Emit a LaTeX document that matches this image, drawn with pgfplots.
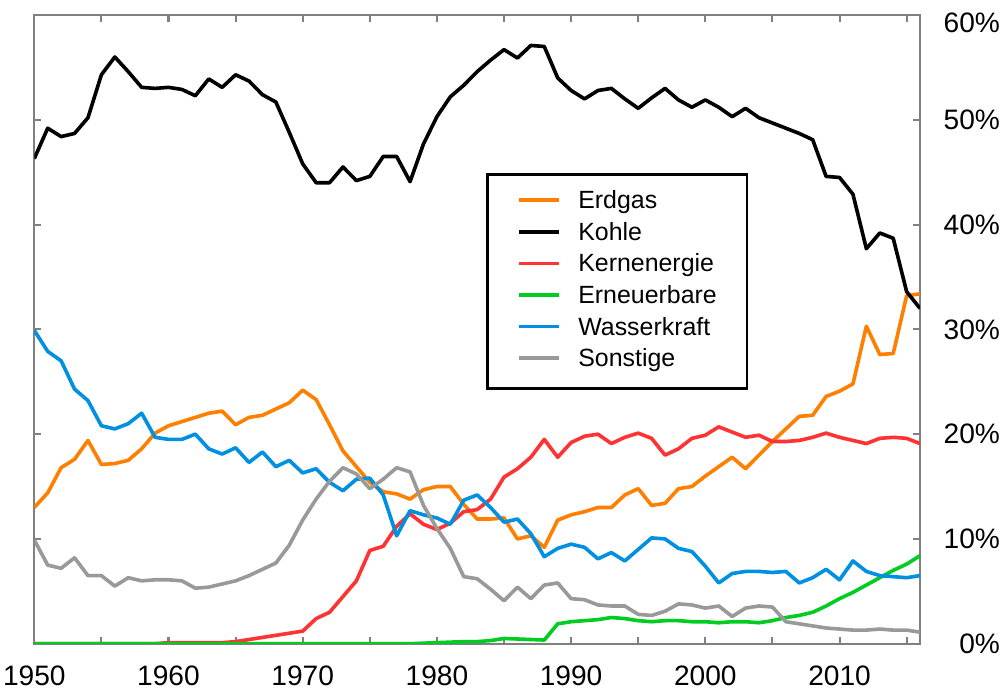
\documentclass[border=0pt]{standalone}
\usepackage{fontspec}
\setmainfont{Liberation Sans}
\usepackage{pgfplots}
\usepackage{pgfplotstable}
\pgfplotsset{compat=1.18}
\definecolor{cgas}{RGB}{255,128,0}
\definecolor{cnuc}{RGB}{255,51,51}
\definecolor{cren}{RGB}{0,204,34}
\definecolor{chyd}{RGB}{0,144,226}
\definecolor{coth}{RGB}{153,153,153}
\definecolor{caxis}{RGB}{128,128,128}

\pgfplotstableread{
year kohle erdgas kern ern wasser sonst
1950 46.3 13.0 0.0 0.0 29.9 9.9
1951 49.2 14.4 0.0 0.0 27.9 7.5
1952 48.4 16.8 0.0 0.0 27.0 7.2
1953 48.7 17.6 0.0 0.0 24.3 8.2
1954 50.2 19.4 0.0 0.0 23.2 6.5
1955 54.3 17.1 0.0 0.0 20.8 6.5
1956 56.0 17.2 0.0 0.0 20.5 5.5
1957 54.6 17.5 0.0 0.0 21.0 6.3
1958 53.1 18.6 0.0 0.0 22.0 6.0
1959 53.0 20.1 0.0 0.0 19.7 6.1
1960 53.1 20.8 0.1 0.0 19.5 6.1
1961 52.9 21.2 0.1 0.0 19.5 6.0
1962 52.3 21.6 0.1 0.0 20.0 5.3
1963 53.9 22.0 0.1 0.0 18.6 5.4
1964 53.1 22.2 0.1 0.0 18.1 5.7
1965 54.3 20.9 0.2 0.0 18.7 6.0
1966 53.7 21.6 0.4 0.0 17.3 6.5
1967 52.4 21.8 0.6 0.0 18.3 7.1
1968 51.7 22.4 0.8 0.0 16.9 7.7
1969 48.8 23.0 1.0 0.0 17.5 9.4
1970 45.8 24.2 1.2 0.0 16.3 11.8
1971 44.0 23.3 2.4 0.0 16.7 13.8
1972 44.0 20.9 3.0 0.0 15.4 15.5
1973 45.5 18.4 4.5 0.0 14.6 16.8
1974 44.2 16.9 6.0 0.0 15.7 16.2
1975 44.6 15.4 8.9 0.0 15.8 14.8
1976 46.5 14.5 9.3 0.0 14.2 15.7
1977 46.5 14.3 11.2 0.0 10.3 16.8
1978 44.1 13.8 12.4 0.0 12.7 16.4
1979 47.7 14.7 11.4 0.05 12.3 13.2
1980 50.3 15.0 10.9 0.1 12.0 11.0
1981 52.2 15.0 11.5 0.15 11.4 9.1
1982 53.3 13.3 12.6 0.2 13.7 6.4
1983 54.6 11.9 12.8 0.2 14.2 6.2
1984 55.7 11.9 13.8 0.3 13.0 5.2
1985 56.7 12.0 15.9 0.5 11.6 4.1
1986 55.9 10.0 16.7 0.45 11.9 5.4
1987 57.1 10.3 17.8 0.4 10.5 4.3
1988 57.0 9.2 19.5 0.35 8.3 5.6
1989 54.0 11.8 17.8 1.9 9.1 5.8
1990 52.8 12.3 19.2 2.1 9.5 4.3
1991 52.0 12.6 19.8 2.2 9.2 4.2
1992 52.8 13.0 20.0 2.3 8.1 3.7
1993 53.0 13.0 19.1 2.5 8.7 3.6
1994 52.0 14.2 19.7 2.4 7.9 3.6
1995 51.1 14.8 20.1 2.2 9.0 2.8
1996 52.1 13.2 19.6 2.1 10.1 2.7
1997 53.0 13.4 18.0 2.2 10.0 3.1
1998 51.9 14.8 18.6 2.2 9.1 3.8
1999 51.2 15.0 19.6 2.1 8.8 3.7
2000 51.9 16.0 19.9 2.1 7.4 3.4
2001 51.2 16.9 20.7 2.0 5.8 3.6
2002 50.3 17.8 20.2 2.1 6.7 2.6
2003 51.1 16.7 19.7 2.1 6.9 3.4
2004 50.2 18.0 19.9 2.0 6.9 3.6
2005 49.7 19.3 19.3 2.2 6.8 3.5
2006 49.2 20.5 19.3 2.5 6.9 2.1
2007 48.7 21.7 19.4 2.7 5.8 1.9
2008 48.1 21.8 19.7 3.0 6.3 1.7
2009 44.6 23.6 20.1 3.6 7.1 1.5
2010 44.5 24.1 19.7 4.3 6.1 1.4
2011 42.9 24.8 19.4 4.9 7.9 1.3
2012 37.7 30.3 19.1 5.6 6.9 1.3
2013 39.2 27.6 19.6 6.3 6.5 1.4
2014 38.7 27.7 19.7 7.0 6.4 1.3
2015 33.6 33.2 19.6 7.6 6.3 1.3
2016 32.0 33.4 19.1 8.4 6.5 1.1
}\data

\begin{document}
\begin{tikzpicture}
\begin{axis}[
  name=ax,
  scale only axis,
  width=441pt, height=313pt,
  xmin=1950, xmax=2016, ymin=0, ymax=60,
  axis line style={draw=caxis, line width=1pt},
  xtick={1950,1960,...,2010},
  minor xtick={1955,1965,...,2015},
  ytick={0,10,...,50},
  yticklabels={0\%,10\%,20\%,30\%,40\%,50\%},
  extra y ticks={60},
  extra y tick labels={60\%},
  extra y tick style={y tick label style={yshift=-4pt}},
  yticklabel pos=right,
  tick align=inside,
  major tick length=3.5pt, minor tick length=3.5pt,
  every tick/.style={draw=caxis, line width=1pt},
  every minor tick/.style={draw=caxis, line width=1pt},
  /pgf/number format/assume math mode=true,
  /pgf/number format/1000 sep={},
  tick label style={font=\fontsize{14}{16}\selectfont, inner sep=1.5pt},
  x tick label style={yshift=-9.5pt},
  y tick label style={anchor=east, xshift=41.5pt},
  legend style={at={(0.510,0.748)}, anchor=north west, draw=black, line width=1.3pt,
    inner xsep=15pt, inner ysep=8pt, row sep=3.7pt, column sep=8.5pt,
    font=\fontsize{12.4}{14}\selectfont,
    nodes={inner sep=0pt, text height=9pt, text depth=3pt}},
  legend cell align=left,
  legend image code/.code={\draw[#1] (0pt,1.3pt) -- (20pt,1.3pt);},
  every axis plot/.append style={line width=1.8pt, line join=round},
]
\addplot[cgas] table[x=year, y=erdgas] {\data};
\addlegendentry{Erdgas}
\addplot[black] table[x=year, y=kohle] {\data};
\addlegendentry{Kohle}
\addplot[cnuc] table[x=year, y=kern] {\data};
\addlegendentry{Kernenergie}
\addplot[cren] table[x=year, y=ern] {\data};
\addlegendentry{Erneuerbare}
\addplot[chyd] table[x=year, y=wasser] {\data};
\addlegendentry{Wasserkraft}
\addplot[coth] table[x=year, y=sonst] {\data};
\addlegendentry{Sonstige}
\end{axis}
\path[draw=none] (ax.north) -- ++(0,7.5pt);
\end{tikzpicture}
\end{document}
